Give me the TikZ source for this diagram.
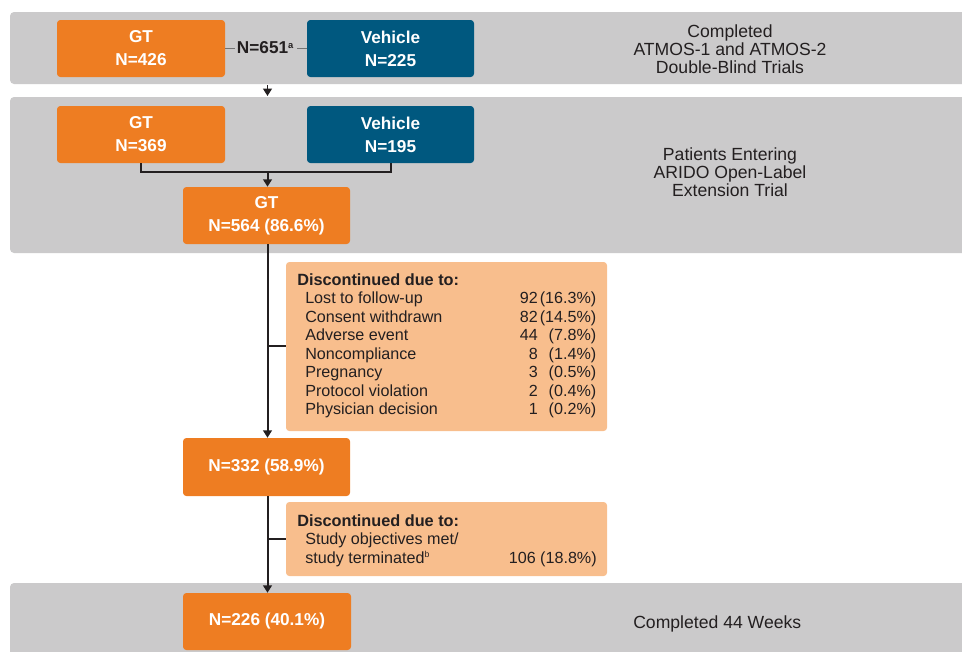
\documentclass[tikz,border=0pt]{standalone}
\usepackage{fontspec}
\setmainfont{Liberation Sans}
\usetikzlibrary{fit,arrows.meta}
\definecolor{gtor}{HTML}{EE7D22}
\definecolor{vehbl}{HTML}{00587F}
\definecolor{bandgr}{HTML}{CBCACB}
\definecolor{lightor}{HTML}{F8BE8D}
\definecolor{txtdk}{HTML}{231F20}
\tikzset{
  band/.style={fill=bandgr, rounded corners=3pt},
  gtbox/.style={fill=gtor, rounded corners=2.5pt, inner sep=0pt},
  vehbox/.style={gtbox, fill=vehbl},
  boxtxt/.style={text=white, font=\fontsize{12.9}{17.2}\selectfont\bfseries, align=center, inner sep=0pt},
  discbox/.style={fill=lightor, rounded corners=2.5pt, inner sep=0pt},
  sidetxt/.style={text=txtdk, font=\fontsize{13.2}{13.5}\selectfont, align=center, inner sep=0pt},
  itemtxt/.style={text=txtdk, font=\fontsize{12.1}{13.9}\selectfont, inner sep=0pt},
  headtxt/.style={itemtxt, font=\fontsize{12.2}{13.9}\selectfont\bfseries},
  conn/.style={draw=txtdk, line width=1.5pt},
  arr/.style={conn, -{Triangle[length=5.5pt,width=6.5pt]}},
  dashln/.style={draw=gray!90!black, line width=0.9pt}
}
\begin{document}
\begin{tikzpicture}[x=0.75pt,y=-0.75pt]
\useasboundingbox (0,0) rectangle (962,651);
\clip (0,0) rectangle (962,651);
% bands
\path[band] (10,12) rectangle (975,84);
\path[band] (10,97) rectangle (975,253);
\path[band] (10,583) rectangle (975,665);
% side labels
\node[sidetxt] (lab1) at (730,49) {Completed\\ATMOS-1 and ATMOS-2\\Double-Blind Trials};
\node[sidetxt] (lab2) at (730,172) {Patients Entering\\ARIDO Open-Label\\Extension Trial};
\node[sidetxt, anchor=west] (lab3) at (633,624) {Completed 44 Weeks};
% top row
\coordinate (g1a) at (57,20); \coordinate (g1b) at (225,77);
\node[gtbox, fit=(g1a)(g1b)] (gt1) {};
\node[boxtxt] (gt1t) at (gt1.center) {GT\\N=426};
\coordinate (v1a) at (307,20); \coordinate (v1b) at (474,77);
\node[vehbox, fit=(v1a)(v1b)] (veh1) {};
\node[boxtxt] (veh1t) at (veh1.center) {Vehicle\\N=225};
\node[text=txtdk, font=\fontsize{12.9}{14}\selectfont\bfseries, inner sep=0pt] (n651) at (265.5,48) {N=651\textsuperscript{\fontsize{7}{8}\selectfont a}};
\draw[dashln] (gt1.east) -- ++(10,0) coordinate (d1);
\draw[dashln] (veh1.west) -- ++(-10,0) coordinate (d2);
% second row
\coordinate (g2a) at (57,106); \coordinate (g2b) at (225,163);
\node[gtbox, fit=(g2a)(g2b)] (gt2) {};
\node[boxtxt] (gt2t) at (gt2.center) {GT\\N=369};
\coordinate (v2a) at (307,106); \coordinate (v2b) at (474,163);
\node[vehbox, fit=(v2a)(v2b)] (veh2) {};
\node[boxtxt] (veh2t) at (veh2.center) {Vehicle\\N=195};
\coordinate (g3a) at (183,187); \coordinate (g3b) at (350,244);
\node[gtbox, fit=(g3a)(g3b)] (gt3) {};
\node[boxtxt] (gt3t) at (gt3.center) {GT\\N=564 (86.6\%)};
% arrow between bands
\coordinate (a1s) at (267.5,85);
\coordinate (a1e) at (267.5,96);
\draw[arr, line width=1.3pt] (a1s) -- (a1e);
% merge
\coordinate (mj) at (267.5,172);
\draw[conn] (gt2.south) -- (gt2.south |- mj) -- (veh2.south |- mj) -- (veh2.south);
\draw[arr] (mj) -- (gt3.north -| mj);
% N=332 box
\coordinate (g4a) at (183,438); \coordinate (g4b) at (350,496);
\node[gtbox, fit=(g4a)(g4b)] (gt4) {};
\node[boxtxt] (gt4t) at (gt4.center) {N=332 (58.9\%)};
% final box
\coordinate (g5a) at (183,593); \coordinate (g5b) at (351,650);
\node[gtbox, fit=(g5a)(g5b)] (gt5) {};
\node[boxtxt] (gt5t) at (gt5.center) {N=226 (40.1\%)};
% discontinued box 1
\coordinate (d1a) at (286,262); \coordinate (d1b) at (607,431);
\node[discbox, fit=(d1a)(d1b)] (disc1) {};
\node[headtxt, anchor=base west] (disc1t) at (297,285) {Discontinued due to:};
\foreach \i/\lab/\n/\p in {1/Lost to follow-up/92/(16.3\%),2/Consent withdrawn/82/(14.5\%),3/Adverse event/44/(7.8\%),4/Noncompliance/8/(1.4\%),5/Pregnancy/3/(0.5\%),6/Protocol violation/2/(0.4\%),7/Physician decision/1/(0.2\%)}{
  \node[itemtxt, anchor=base west] (it\i) at (305,{285+18.5*\i}) {\lab};
  \node[itemtxt, anchor=base east] (nm\i) at (538,{285+18.5*\i}) {\n};
  \node[itemtxt, anchor=base east] (pc\i) at (596.5,{285+18.5*\i}) {\p};
}
% discontinued box 2
\coordinate (d2a) at (286,502); \coordinate (d2b) at (607,576);
\node[discbox, fit=(d2a)(d2b)] (disc2) {};
\node[headtxt, anchor=base west] (disc2t) at (297,526) {Discontinued due to:};
\node[itemtxt, anchor=base west] (st1) at (305,544.5) {Study objectives met/};
\node[itemtxt, anchor=base west] (st2) at (305,563) {study terminated\textsuperscript{\fontsize{6.5}{7}\selectfont b}};
\node[itemtxt, anchor=base east] (st3) at (597,563) {106 (18.8\%)};
% main vertical flow
\coordinate (b1) at (267.5,346);
\coordinate (b2) at (267.5,539);
\draw[arr] (gt3.south -| b1) -- (gt4.north -| b1);
\draw[conn] (b1) -- (disc1.west |- b1);
\draw[arr] (gt4.south -| b2) -- (gt5.north -| b2);
\draw[conn] (b2) -- (disc2.west |- b2);
\end{tikzpicture}
\end{document}
